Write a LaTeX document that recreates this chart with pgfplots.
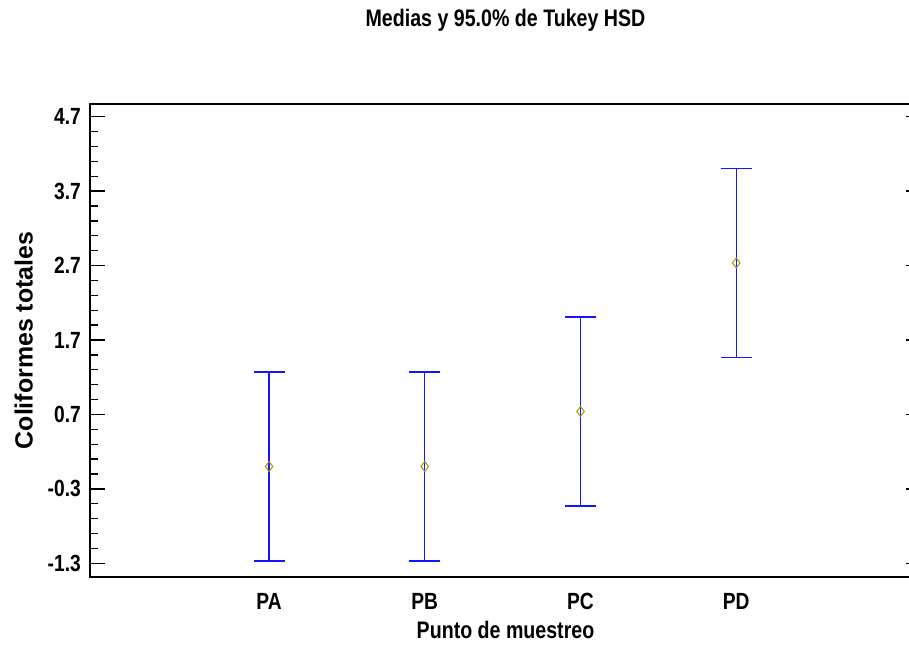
\documentclass[border=0pt]{standalone}
\usepackage{pgfplots}
\pgfplotsset{compat=1.18}
\usepackage{fontspec}
\setmainfont{Liberation Sans}
\newfontfamily\nb{Liberation Sans}[FakeStretch=0.82]
\definecolor{barblue}{RGB}{20,20,255}
\definecolor{markolive}{RGB}{160,150,0}
\pgfplotstableread{
x y err
1 0.0 1.27
2 0.0 1.27
3 0.74 1.27
4 2.735 1.27
}\datatable
\begin{document}
\begin{tikzpicture}[x=1bp,y=1bp]
\begin{axis}[
  at={(90bp,72bp)}, anchor=south west,
  scale only axis,
  width=831bp, height=473bp,
  xmin=-0.15, xmax=5.187,
  ymin=-1.484, ymax=4.87,
  axis line style={line width=1.3bp},
  xtick={1,2,3,4},
  xticklabels={PA,PB,PC,PD},
  xtick style={draw=none},
  ytick={-1.3,-0.3,0.7,1.7,2.7,3.7,4.7},
  minor y tick num=4,
  ytick style={line width=1.3bp, black},
  minor y tick style={line width=1.3bp, black},
  major tick length=15bp,
  minor tick length=8bp,
  tick align=inside,
  /pgf/number format/assume math mode=true,
  /pgf/number format/.cd, fixed, fixed zerofill, precision=1, /pgfplots/.cd,
  ticklabel style={font=\nb\bfseries\fontsize{23.5}{24}\selectfont},
  yticklabel style={anchor=east, inner sep=0pt, xshift=-9bp},
  xticklabel style={anchor=base, inner sep=0pt, yshift=-33bp},
  title={Medias y 95.0\% de Tukey HSD},
  title style={font=\nb\bfseries\fontsize{24}{26}\selectfont, at={(axis description cs:0.5,1)}, anchor=base, inner sep=0pt, yshift=72bp},
  xlabel={Punto de muestreo},
  xlabel style={font=\nb\bfseries\fontsize{24}{26}\selectfont, at={(axis description cs:0.5,0)}, anchor=base, inner sep=0pt, yshift=-62bp},
  ylabel={Coliformes totales},
  ylabel style={font=\bfseries\fontsize{25}{27}\selectfont, at={(axis description cs:-0.0691,0.5)}, anchor=base, inner sep=0pt},
  clip=false,
]
\addplot[only marks, mark=diamond, mark size=5bp, mark options={draw=markolive, fill=none, line width=1bp},
  error bars/.cd, y dir=both, y explicit,
  error bar style={barblue, line width=1.3bp},
  error mark options={barblue, mark size=15.5bp, line width=1.3bp, rotate=90}]
  table[x=x, y=y, y error=err] {\datatable};
\end{axis}
\pgfresetboundingbox
\path[use as bounding box] (0,0) rectangle (909,649);
\end{tikzpicture}
\end{document}
